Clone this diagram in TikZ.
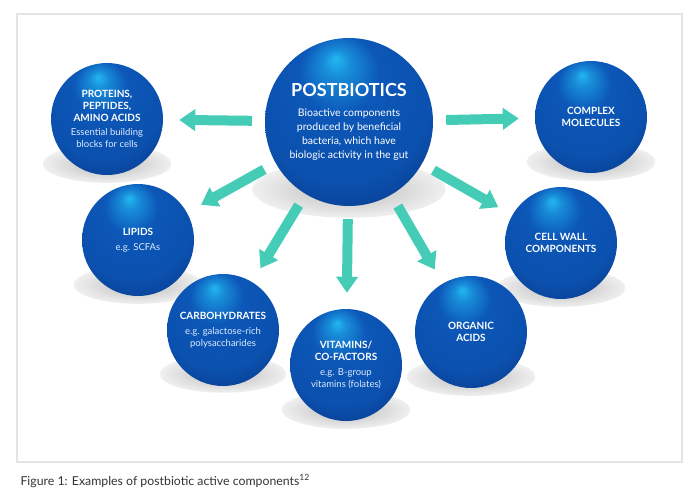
\documentclass[tikz,border=0pt]{standalone}
\usepackage{fontspec}
\setmainfont{Lato}
\usetikzlibrary{arrows.meta,calc,backgrounds}
\definecolor{spherehi}{HTML}{22B8F2}
\definecolor{spheremid}{HTML}{0C57B8}
\definecolor{spheredark}{HTML}{083C8E}
\definecolor{arrowteal}{HTML}{44CCB6}
\definecolor{notewhite}{HTML}{DCEBFF}
\definecolor{framegray}{HTML}{E4E4E4}
\definecolor{captiongray}{HTML}{333333}
% the path edge sits at about 35bp of a radial shading
\pgfdeclareradialshading{sphereshade}{\pgfpoint{-4bp}{19bp}}{%
  color(0bp)=(spherehi); color(4bp)=(spherehi!55!spheremid);
  color(12bp)=(spheremid); color(27bp)=(spheremid!75!spheredark);
  color(36bp)=(spheredark); color(50bp)=(spheredark)}
\pgfdeclareradialshading{shadowblur}{\pgfpoint{0bp}{0bp}}{%
  color(0bp)=(black!26); color(12bp)=(black!17); color(25bp)=(black!6);
  color(35bp)=(white); color(50bp)=(white)}
\newcommand\compnote[1]{{\mdseries\fontsize{9.5}{11.5}\selectfont\color{notewhite}#1}}
\tikzset{
  ball/.style   ={circle, shading=sphereshade, inner sep=0pt, minimum size=112pt,
                  align=center, text=white, font=\bfseries\fontsize{10}{12}\selectfont},
  bigball/.style={ball, minimum size=168pt, font=\fontsize{10.5}{14}\selectfont},
  ar/.style     ={-{Triangle[length=16pt,width=21pt]}, line width=10pt,
                  draw=arrowteal, shorten <=13pt, shorten >=16pt}
}

\begin{document}
\begin{tikzpicture}[x=1pt,y=-1pt]
\useasboundingbox (0,0) rectangle (693,501);
\node[bigball] (post) at (349,122)
      {{\fontsize{18}{20}\selectfont\bfseries POSTBIOTICS}\\[6pt]
       Bioactive components\\produced by beneficial\\bacteria, which have\\biologic activity in the gut};
\node[ball] (prot) at (107,119)
      {PROTEINS,\\PEPTIDES,\\AMINO ACIDS\\[2pt]
       \compnote{Essential building}\\\compnote{blocks for cells}};
\node[ball] (lip)  at (138,240)
      {LIPIDS\\[3pt]\compnote{e.g. SCFAs}};
\node[ball] (carb) at (223,330)
      {CARBOHYDRATES\\[3pt]\compnote{e.g. galactose-rich}\\\compnote{polysaccharides}};
\node[ball] (vit)  at (346,365)
      {VITAMINS/\\CO-FACTORS\\[3pt]\compnote{e.g. B-group}\\\compnote{vitamins (folates)}};
\node[ball] (org)  at (471,332) {ORGANIC\\ACIDS};
\node[ball] (wall) at (561,243) {CELL WALL\\COMPONENTS};
\node[ball] (cplx) at (591,117) {COMPLEX\\MOLECULES};

\draw[ar] (post) -- (prot);
\draw[ar] (post) -- (lip);
\draw[ar] (post) -- (carb);
\draw[ar] (post) -- (vit);
\draw[ar] (post) -- (org);
\draw[ar] (post) -- (wall);
\draw[ar] (post) -- (cplx);

% frame and soft shadows behind the spheres
\begin{scope}[on background layer]
  \draw[framegray, line width=1.5pt] (17,14) rectangle (682,462);
  \foreach \n/\r in {post/84,prot/56,lip/56,carb/55,vit/56,org/56,wall/56,cplx/56}
    \shade[shading=shadowblur] ($(\n)+(0,{0.8*\r})$)
      ellipse [x radius={1.15*\r}, y radius={0.34*\r}];
\end{scope}

\node[anchor=base west, text=captiongray, font=\fontsize{12.3}{15}\selectfont] (cap) at (17,485)
      {Figure 1: Examples of postbiotic active components\textsuperscript{12}};
\end{tikzpicture}
\end{document}
